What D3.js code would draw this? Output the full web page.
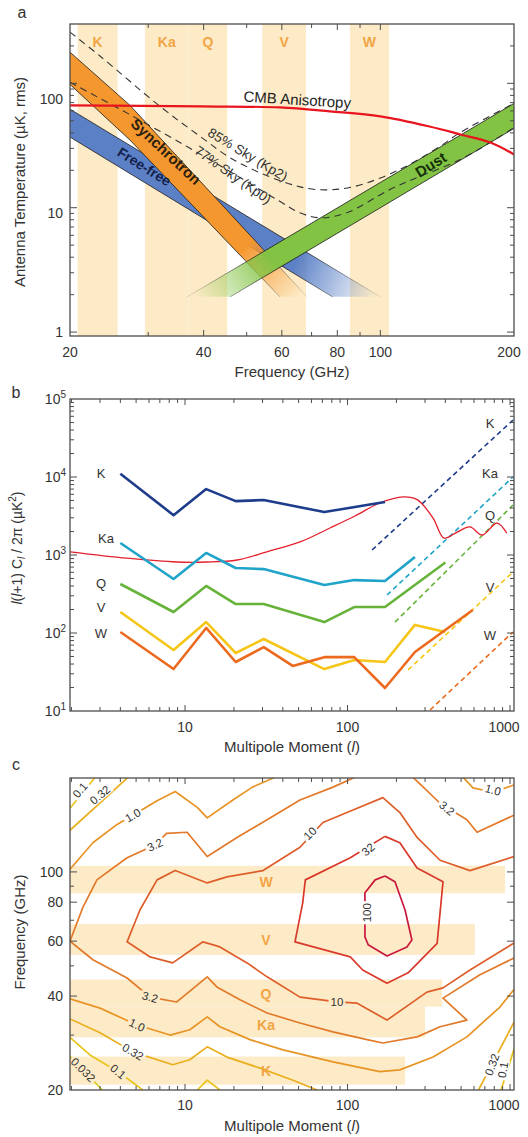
<!DOCTYPE html>
<html><head><meta charset="utf-8">
<script src="https://cdn.jsdelivr.net/npm/d3@7/dist/d3.min.js"></script>
<style>
html,body{margin:0;padding:0;background:#fff;}
svg{display:block;}
text{font-family:"Liberation Sans",Arial,Helvetica,sans-serif;}
</style></head>
<body>
<svg id="chart" width="528" height="1137"></svg>
<script>
// ================= DATA =================
const bandNames   = ["K","Ka","Q","V","W"];
const bandLowGHz  = [20.8, 29.5, 37.0, 54.2, 85.4];
const bandHighGHz = [25.6, 37.0, 45.2, 68.0, 104.6];
const bandMaxEll  = [226, 300, 382, 609, 931];

// ---- panel a : antenna temperature (uK rms) vs frequency (GHz)
const freqTickLabels = [20, 40, 60, 80, 100, 200];
const tempTickLabels = [1, 10, 100];
const synchUpper = [[20,178],[27.3,66.5],[68.4,1.92]];
const synchLower = [[20,98],[27.3,35],[59.4,1.92]];
const freeUpper  = [[20,62],[100,1.92]];
const freeLower  = [[20,37],[78,1.92]];
const dustUpper  = [[36.7,1.92],[200,69]];
const dustLower  = [[45.9,1.92],[200,43.4]];
const cmbAnisotropy = [[20,66.5],[39.3,65.3],[59.4,64],[77,59.5],[100,54.3],[129,45],[151.5,38.8],[177,33.4],[200,26.8]];
const skyKp2 = [[20,258],[23.4,165],[31.9,65.3],[39.3,37.4],[46.6,24.4],[60.3,16.2],[71.8,14.0],[86.6,14.7],[110.6,20.3],[136,31],[151.5,40.3],[200,69]];
const skyKp0 = [[20,102],[27.3,56],[36.7,31],[45.9,19.5],[58.5,11.6],[65.9,9.1],[73,8.3],[84,9.1],[105,14],[122.5,17.8],[151.5,24.4],[200,44]];
const synchFade = [[50,5],[66,1.92]];
const freeFade  = [[64,3.6],[98,1.92]];
const dustFade  = [[38,1.92],[56,4.5]];

// ---- panel b : l(l+1)Cl/2pi (uK^2) vs multipole
const ellBins  = [4, 8.5, 13.5, 20.5, 30.5, 46, 72, 110, 170, 260, 400, 590];
const specK  = [11000, 3240, 7000, 4900, 5070, null, 3550, null, 4790, null, null, null];
const specKa = [1426, 492, 1062, 681, 660, null, 412, 477, 464, 943, null, null];
const specQ  = [425, 186, 401, 235, 235, null, 138, 215, 215, null, 800, null];
const specV  = [186, 60.5, 138, 55.4, 83.7, null, 34.5, 45, 42.5, 127, 103, null];
const specW  = [103, 34.5, 116, 42.5, 66, 37.8, 49, 49, 19.7, 57, null, 197];
const cmbSpectrum = [[1.96,1100],[4.4,910],[8.9,813],[13.6,813],[20.9,863],[31.9,1100],[51,1470],[78,2220],[111,3160],[158,4640],[220,5550],[268,5130],[336,2980],[392,1650],[470,1950],[567,2290],[673,1800],[832,2570],[956,1900]];
const noiseK  = [[141.6,1160],[1043,53700]];
const noiseKa = [[175,307],[1043,10000]];
const noiseQ  = [[196,138],[1043,4370]];
const noiseV  = [[236,33.6],[1043,605]];
const noiseW  = [[322,10.3],[1043,103]];
const powerExponents = [1,2,3,4,5];
const ellTickLabels = [10,100,1000];

// ---- panel c : contours of CMB / foreground ratio in (multipole, GHz)
const freqTickLabelsC = [20,40,60,80,100];
const contourLevels = ["0.032","0.1","0.32","1.0","3.2","10","32","100"];
const contour0032 = [[[1.96,25.6],[3.1,20]]];
const contour01 = [
  [[1.96,160],[2.8,201]],
  [[1.96,29.5],[2.6,25.9],[3.87,22.9],[5.5,20]],
  [[11.9,20],[13.7,21.5],[16.4,20]],
  [[880,20],[1058,27]]
];
const contour032 = [
  [[1.96,136],[4.46,201]],
  [[1.96,33.8],[3.0,30.5],[4.78,26.5],[8.4,24.1],[10.7,25.0],[13.7,27.5],[18.1,25.5],[29,23.5],[46.2,21.5],[65,20]],
  [[640,20],[1058,33]]
];
const contour1 = [
  [[1.96,102],[2.71,124],[3.82,142],[4.78,152],[6.73,169],[8.7,181],[11.9,161],[13.7,149],[19.7,170],[26,187],[35.8,201]],
  [[514,201],[592,186],[785,180],[1058,190]],
  [[1.96,39.2],[3.0,36.6],[5.07,32.3],[8.1,30.0],[10.7,31.2],[13.7,34.3],[16.4,31.9],[25.1,29.0],[40.1,26.9],[81.4,24.6],[158,22.9],[210,23.2],[336,25.5],[543,29.6],[867,36.9],[1058,42]]
];
const contour32_ = [
  [[111,201],[81.4,187],[51,170],[32,147],[20.9,129],[13.7,112],[10.3,134],[7.7,133],[6.53,122],[4.40,111],[2.87,94.3],[2.36,77.3],[1.96,60],
   [2.71,52.3],[4.40,45.7],[6.1,39.7],[8.9,38.3],[13.7,46.1],[15.7,42.8],[21.8,38.9],[32,35.3],[51,32.8],[81.4,30.7],[132,29.0],[165,28.3],[268,29.6],[371,31.9],[543,33.5],[387,39.4],[653,46.8],[1058,53]],
  [[253,201],[371,166],[543,147],[627,134],[1058,152]]
];
const contour10 = [
  [[1058,112],[567,101],[371,109],[268,129],[210,155],[165,173],[108,158],[70.6,144],[51,120],[30.2,101],[18.1,96.4],[13.7,92.2],[8.7,101],[6.73,94.3],[5.28,75.5],[4.40,59.7],
   [6.1,53.4],[8.4,51.1],[12.9,59.7],[16.4,57.5],[24.1,51.1],[32,46.1],[51,39.7],[86.1,38.3],[114,38.0],[175,33.5],[308,41.2],[387,42.5],[567,48.5],[1058,59.2]]
];
const contour32 = [[[170,130],[210,124],[268,103],[387,93],[356,59],[236,47.5],[175,44],[124,48.5],[104,53.4],[47.5,59.7],[53,79.6],[55,94.3],[104,111],[170,130]]];
const contour100 = [[[170,97],[196,93],[226,75.5],[249,60.5],[232,57.5],[175,53.8],[134,58.4],[128,61.9],[128,85.7],[148,94.3],[170,97]]];
const contourLabelText = ["0.1","0.32","1.0","3.2","10","32","100","3.2","1.0","3.2","10","1.0","0.32","0.1","0.032","0.32","0.1"];
const contourLabelEll  = [2.26,3.0,4.78,6.53,58.8,134,132,409,785,6.1,86.1,5.07,4.78,3.87,2.36,775,905];
const contourLabelGHz  = [183,176.5,152,122,133,118,74,160,183,39.7,38.3,32.3,26.5,22.9,23.2,24.1,23.2];

// ================= STYLE / LAYOUT =================
const FRAME = "#4d4d4d", TXT = "#333", STRIPE = "#FDEBC7", BANDTXT = "#F2A444";
const svg = d3.select("#chart");
const defs = svg.append("defs");

function frame(g, x, y, x0, x1, y0, y1, xMaj, yMaj){
  g.append("rect").attr("x",x0).attr("y",y0).attr("width",x1-x0).attr("height",y1-y0)
    .attr("fill","none").attr("stroke",FRAME).attr("stroke-width",1.3);
  const near=(a,b)=>Math.abs(a-b)/b<1e-6;
  x.ticks().forEach(v=>{
    const p=x(v); if(p<x0+1||p>x1-1) return;
    const L = xMaj.some(m=>near(v,m))?6:4;
    g.append("line").attr("x1",p).attr("x2",p).attr("y1",y1).attr("y2",y1-L).attr("stroke",FRAME);
    g.append("line").attr("x1",p).attr("x2",p).attr("y1",y0).attr("y2",y0+L).attr("stroke",FRAME);
  });
  y.ticks().forEach(v=>{
    const p=y(v); if(p<y0+1||p>y1-1) return;
    const L = yMaj.some(m=>near(v,m))?7:4;
    g.append("line").attr("y1",p).attr("y2",p).attr("x1",x0).attr("x2",x0+L).attr("stroke",FRAME);
    g.append("line").attr("y1",p).attr("y2",p).attr("x1",x1).attr("x2",x1-L).attr("stroke",FRAME);
  });
}
function label(g, txt, x, y, opts={}){
  const t=g.append("text").attr("x",x).attr("y",y).attr("font-size",opts.size||14)
    .attr("fill",opts.fill||TXT).attr("text-anchor",opts.anchor||"middle").text(txt);
  if(opts.weight) t.attr("font-weight",opts.weight);
  return t;
}
function rlabel(g,txt,x,y,rot,opts={}){
  return g.append("text").attr("transform",`translate(${x},${y}) rotate(${rot})`).attr("text-anchor","middle")
    .attr("dy","0.35em").attr("font-size",opts.size||14).attr("font-weight",opts.weight||"normal")
    .attr("fill",opts.fill||TXT).text(txt);
}

// ================= PANEL A =================
const xA = d3.scaleLog().domain([20,200]).range([70,514]);
const yA = d3.scaleLog().domain([0.93,300]).range([336,24]);
defs.append("clipPath").attr("id","clipA").append("rect").attr("x",70).attr("y",24).attr("width",444).attr("height",312);
const gA = svg.append("g");
const pA = gA.append("g").attr("clip-path","url(#clipA)");
bandNames.forEach((b,i)=>{
  pA.append("rect").attr("x",xA(bandLowGHz[i])).attr("y",24)
    .attr("width",xA(bandHighGHz[i])-xA(bandLowGHz[i])).attr("height",312).attr("fill",STRIPE);
  label(gA,b,(xA(bandLowGHz[i])+xA(bandHighGHz[i]))/2,47,{fill:BANDTXT,weight:"bold",size:14});
});
function grad(id,color,p0,p1,o0,o1){
  const g=defs.append("linearGradient").attr("id",id).attr("gradientUnits","userSpaceOnUse")
    .attr("x1",xA(p0[0])).attr("y1",yA(p0[1])).attr("x2",xA(p1[0])).attr("y2",yA(p1[1]));
  g.append("stop").attr("offset",0).attr("stop-color",color).attr("stop-opacity",o0);
  g.append("stop").attr("offset",1).attr("stop-color",color).attr("stop-opacity",o1);
}
const lineA = d3.line().x(d=>xA(d[0])).y(d=>yA(d[1]));
function band(up,lo,fill,fade,id,reverse){
  grad(id+"F",fill,fade[0],fade[1],reverse?0:1,reverse?1:0);
  grad(id+"S","#1a1a1a",fade[0],fade[1],reverse?0.15:0.9,reverse?0.9:0.15);
  pA.append("path").attr("d",lineA(up.concat(lo.slice().reverse()))+"Z").attr("fill",`url(#${id}F)`);
  [up,lo].forEach(e=>pA.append("path").attr("d",lineA(e)).attr("fill","none").attr("stroke",`url(#${id}S)`).attr("stroke-width",0.9));
}
band(freeUpper,freeLower,"#5B80C6",freeFade,"ff",false);
band(synchUpper,synchLower,"#F4972E",synchFade,"sy",false);
band(dustUpper,dustLower,"#82C343",dustFade,"du",true);
const smoothA = d3.line().x(d=>xA(d[0])).y(d=>yA(d[1])).curve(d3.curveCatmullRom);
[skyKp2,skyKp0].forEach(s=>pA.append("path").attr("d",smoothA(s)).attr("fill","none")
  .attr("stroke","#333").attr("stroke-width",1.1).attr("stroke-dasharray","7,5"));
pA.append("path").attr("d",smoothA(cmbAnisotropy)).attr("fill","none").attr("stroke","#E8141E").attr("stroke-width",2.2);
rlabel(gA,"CMB Anisotropy",xA(65),yA(74),3.5,{size:15,fill:"#222"});
rlabel(gA,"Synchrotron",xA(32.9),yA(28.3),43,{size:15,weight:"bold",fill:"#2a2010"});
rlabel(gA,"Free-free",xA(29.4),yA(21.4),32,{size:14,weight:"bold",fill:"#13204a"});
rlabel(gA,"85% Sky (Kp2)",xA(50.3),yA(26.8),31,{size:13.5,fill:"#333"});
rlabel(gA,"77% Sky (Kp0)",xA(46.6),yA(18.4),35,{size:13.5,fill:"#333"});
rlabel(gA,"Dust",xA(130),yA(22.2),-32,{size:15,weight:"bold",fill:"#14300a"});
frame(gA,xA,yA,70,514,24,336,freqTickLabels,tempTickLabels);
freqTickLabels.forEach(v=>label(gA,v,Math.min(xA(v),509),357,{size:14}));
const tempLabelShift = [5,10,21];   // the printed labels sit slightly below their ticks
tempTickLabels.forEach((v,i)=>label(gA,v,63,yA(v)+tempLabelShift[i],{size:14,anchor:"end"}));
label(gA,"Frequency (GHz)",292,377,{size:15});
rlabel(gA,"Antenna Temperature (\u00b5K, rms)",20,182,-90,{size:15});
label(gA,"a",22,18,{size:16});

// ================= PANEL B =================
const xB = d3.scaleLog().domain([1.96,1058]).range([70,514]);
const yB = d3.scaleLog().domain([10,1e5]).range([711,399]);
defs.append("clipPath").attr("id","clipB").append("rect").attr("x",70).attr("y",399).attr("width",444).attr("height",312);
const gB = svg.append("g");
const pB = gB.append("g").attr("clip-path","url(#clipB)");
const lineB = d3.line().x(d=>xB(d[0])).y(d=>yB(d[1]));
const seriesColors = ["#1E3C8C","#1FA3C9","#67B33A","#F5C518","#EC6A1E"];
const noiseSets = [noiseK,noiseKa,noiseQ,noiseV,noiseW];
noiseSets.forEach((n,i)=>pB.append("path").attr("d",lineB(n)).attr("fill","none").attr("stroke",seriesColors[i])
  .attr("stroke-width",1.6).attr("stroke-dasharray","5,3.5"));
pB.append("path").attr("d",lineB.curve(d3.curveCatmullRom)(cmbSpectrum)).attr("fill","none").attr("stroke","#E3202C").attr("stroke-width",1.3);
lineB.curve(d3.curveLinear);
[specK,specKa,specQ,specV,specW].forEach((s,i)=>{
  const pts = ellBins.map((l,j)=>[l,s[j]]).filter(d=>d[1]!==null);
  pB.append("path").attr("d",lineB(pts)).attr("fill","none").attr("stroke",seriesColors[i])
    .attr("stroke-width",2.6).attr("stroke-linejoin","round");
});
const leftLabY = [473,538,583,607,633], rightLabY=[423,473,515,587,635];
bandNames.forEach((b,i)=>{
  label(gB,b,i===1?106:101,leftLabY[i]+5,{size:13});
  label(gB,b,490,rightLabY[i]+5,{size:13});
});
frame(gB,xB,yB,70,514,399,711,ellTickLabels,powerExponents.map(e=>10**e));
ellTickLabels.forEach(v=>label(gB,v,Math.min(xB(v),504),732,{size:14}));
powerExponents.forEach(e=>{
  const t=gB.append("text").attr("x",66).attr("y",yB(10**e)+5).attr("text-anchor","end").attr("font-size",14).attr("fill",TXT);
  t.append("tspan").text("10");
  t.append("tspan").attr("dy",-6).attr("font-size",10).text(e);
});
{
  const t=gB.append("text").attr("transform","translate(22,548) rotate(-90)").attr("text-anchor","middle").attr("font-size",14).attr("fill",TXT);
  t.append("tspan").attr("font-style","italic").text("l");
  t.append("tspan").text("(");
  t.append("tspan").attr("font-style","italic").text("l");
  t.append("tspan").text("+1) C");
  t.append("tspan").attr("font-style","italic").attr("font-size",10).attr("dy",3).text("l");
  t.append("tspan").attr("dy",-3).text(" / 2\u03c0 (\u00b5K");
  t.append("tspan").attr("font-size",10).attr("dy",-6).text("2");
  t.append("tspan").attr("dy",6).text(")");
}
function mmLabel(g,y){
  const t=g.append("text").attr("x",292).attr("y",y).attr("text-anchor","middle").attr("font-size",15).attr("fill",TXT);
  t.append("tspan").text("Multipole Moment (");
  t.append("tspan").attr("font-style","italic").text("l");
  t.append("tspan").text(")");
}
mmLabel(gB,752);
label(gB,"b",16,398,{size:16});

// ================= PANEL C =================
const xC = d3.scaleLog().domain([1.96,1058]).range([70,514]);
const yC = d3.scaleLog().domain([20,200]).range([1090,778]);
defs.append("clipPath").attr("id","clipC").append("rect").attr("x",70).attr("y",778).attr("width",444).attr("height",312);
const gC = svg.append("g");
const pC = gC.append("g").attr("clip-path","url(#clipC)");
bandNames.forEach((b,i)=>{
  pC.append("rect").attr("x",70).attr("y",yC(bandHighGHz[i]))
    .attr("width",xC(bandMaxEll[i])-70).attr("height",yC(bandLowGHz[i])-yC(bandHighGHz[i])).attr("fill",STRIPE);
});
const cmask = defs.append("mask").attr("id","cmask").attr("maskUnits","userSpaceOnUse")
  .attr("x",0).attr("y",0).attr("width",528).attr("height",1137);
cmask.append("rect").attr("x",0).attr("y",0).attr("width",528).attr("height",1137).attr("fill","white");
const linesC = pC.append("g").attr("mask","url(#cmask)");
const contourColors = ["#D9CF22","#E8C41C","#EAAE1E","#E89424","#E27A2A","#DE5E2A","#D9392A","#C9183E"];
const contourSets = [contour0032,contour01,contour032,contour1,contour32_,contour10,contour32,contour100];
const lineC = d3.line().x(d=>xC(d[0])).y(d=>yC(d[1]));
contourSets.forEach((set,i)=>set.forEach(pl=>linesC.append("path").attr("d",lineC(pl)).attr("fill","none")
  .attr("stroke",contourColors[i]).attr("stroke-width",1.7).attr("stroke-linejoin","round")));
const labelRot = [-50,-40,-30,-25,-45,-40,-90,40,15,15,0,25,30,40,45,-70,-80];
contourLabelText.forEach((s,i)=>{
  const x=xC(contourLabelEll[i]), y=yC(contourLabelGHz[i]);
  const t=rlabel(gC,s,x,y,labelRot[i],{size:11.5,fill:"#333"});
  const bb=t.node().getBBox();
  cmask.append("rect").attr("transform",`translate(${x},${y}) rotate(${labelRot[i]})`)
    .attr("x",bb.x-2).attr("y",bb.y+ (bb.height*0.1)).attr("width",bb.width+4).attr("height",bb.height*0.85).attr("fill","black");
});
const bandLabelGHz = [23.0,32.3,40.5,60.5,93];
bandNames.forEach((b,i)=>label(gC,b,266,yC(bandLabelGHz[i])+5,{fill:BANDTXT,weight:"bold",size:14}));
frame(gC,xC,yC,70,514,778,1090,ellTickLabels,freqTickLabelsC);
ellTickLabels.forEach(v=>label(gC,v,Math.min(xC(v),504),1110,{size:14}));
freqTickLabelsC.forEach(v=>label(gC,v,63,yC(v)+5,{size:14,anchor:"end"}));
rlabel(gC,"Frequency (GHz)",20,932,-90,{size:15});
mmLabel(gC,1131);
label(gC,"c",16,770,{size:16});
</script>
</body></html>
